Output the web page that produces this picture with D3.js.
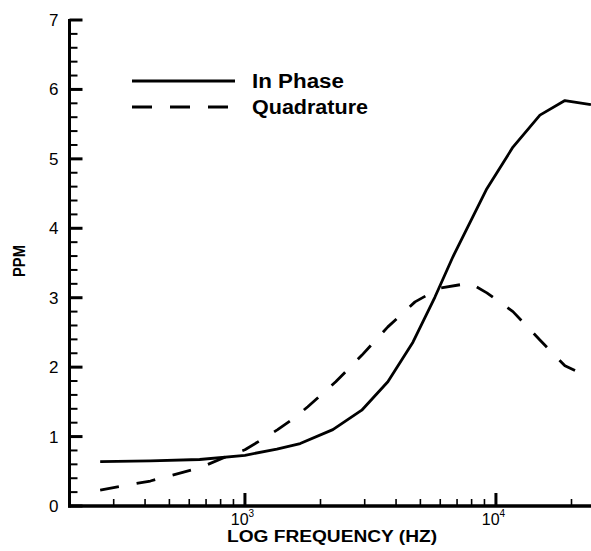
<!DOCTYPE html>
<html>
<head>
<meta charset="utf-8">
<script src="https://cdn.jsdelivr.net/npm/d3@7"></script>
<style>
  html, body { margin: 0; padding: 0; background: #fff; overflow: hidden; }
  svg { display: block; }
  text { font-family: "Liberation Sans", Arial, Helvetica, sans-serif; fill: #000; }
</style>
</head>
<body>
<svg id="chart" width="591" height="551"></svg>
<script>
// ---- data ----
const inPhaseFreq   = [265, 420, 660, 1000, 1340, 1660, 2240, 2920, 3710, 4670, 5715, 6740, 9200, 11690, 14970, 18830, 23900];
const inPhaseValues = [0.64, 0.65, 0.67, 0.73, 0.82, 0.90, 1.10, 1.38, 1.79, 2.36, 3.01, 3.59, 4.57, 5.17, 5.63, 5.84, 5.78];

const quadFreq   = [265, 420, 660, 855, 1000, 1170, 1350, 1550, 1780, 2300, 2920, 3710, 4760, 5980, 7880, 9200, 11690, 14970, 18830, 23900];
const quadValues = [0.23, 0.36, 0.55, 0.72, 0.81, 0.96, 1.10, 1.25, 1.43, 1.79, 2.17, 2.58, 2.94, 3.14, 3.21, 3.07, 2.80, 2.39, 2.02, 1.84];

const xMajorTicks = [1000, 10000];
const xMinorTicks = [300, 400, 500, 600, 700, 800, 900, 2000, 3000, 4000, 5000, 6000, 7000, 8000, 9000, 20000];
const yMajorTicks = [0, 1, 2, 3, 4, 5, 6, 7];
const yMinorTicks = [0.2, 0.4, 0.6, 0.8, 1.2, 1.4, 1.6, 1.8, 2.2, 2.4, 2.6, 2.8, 3.2, 3.4, 3.6, 3.8,
                     4.2, 4.4, 4.6, 4.8, 5.2, 5.4, 5.6, 5.8, 6.2, 6.4, 6.6, 6.8];

const legendLabels = ["In Phase", "Quadrature"];
const xTitle = "LOG FREQUENCY (HZ)";
const yTitle = "PPM";

// ---- layout ----
const svg = d3.select("#chart");
const x0 = 69.5, decade = 251;
const x = d3.scaleLog().domain([200, 25000]).range([x0, x0 + decade * Math.log10(25000 / 200)]);
const y = d3.scaleLinear().domain([0, 7]).range([506, 20]);
const yBase = y(0);

// curves first (underneath axes)
const line = d3.line().x(d => x(d[0])).y(d => y(d[1])).curve(d3.curveLinear);
const inPhase = d3.zip(inPhaseFreq, inPhaseValues);
const quad = d3.zip(quadFreq, quadValues);

svg.append("path").datum(inPhase).attr("d", line)
  .attr("fill", "none").attr("stroke", "#000").attr("stroke-width", 2.8).attr("stroke-linejoin", "round");
svg.append("path").datum(quad).attr("d", line)
  .attr("fill", "none").attr("stroke", "#000").attr("stroke-width", 2.8)
  .attr("stroke-dasharray", "19,18").attr("stroke-linejoin", "round");

// y axis labels via d3 axis
const yAxis = d3.axisLeft(y).tickValues(yMajorTicks).tickSize(0).tickSizeOuter(0).tickPadding(11).tickFormat(d3.format("d"));
const gy = svg.append("g").attr("transform", `translate(${x0},0)`).call(yAxis);
gy.select(".domain").remove();
gy.selectAll(".tick text")
  .style("font-size", "17px").style("font-family", '"Liberation Sans", Arial, sans-serif').attr("fill", "#000");

// x axis labels via d3 axis
const xAxis = d3.axisBottom(x).tickValues(xMajorTicks).tickSize(0).tickSizeOuter(0);
const gx = svg.append("g").attr("transform", `translate(0,${yBase})`).call(xAxis);
gx.select(".domain").remove();
gx.selectAll(".tick text").each(function(d) {
  const t = d3.select(this);
  t.text(null).attr("y", 19).attr("dy", 0).attr("x", -3)
   .attr("text-anchor", "middle").attr("fill", "#000")
   .style("font-size", "16px").style("font-family", '"Liberation Sans", Arial, sans-serif');
  t.append("tspan").text("10");
  t.append("tspan").attr("dy", -8).style("font-size", "10px").text(String(Math.round(Math.log10(d))));
});

// axis lines and inward ticks, positioned by the scales
const axes = svg.append("g").attr("class", "axes-lines");
axes.append("line").attr("x1", x0).attr("x2", x0).attr("y1", y(7) - 1).attr("y2", yBase + 1.5)
  .attr("stroke", "#000").attr("stroke-width", 3);
axes.append("line").attr("x1", x0 - 1.5).attr("x2", 591).attr("y1", yBase).attr("y2", yBase)
  .attr("stroke", "#000").attr("stroke-width", 3.5);
yMinorTicks.forEach(v => {
  axes.append("line").attr("x1", x0).attr("x2", x0 + 8).attr("y1", y(v)).attr("y2", y(v))
    .attr("stroke", "#000").attr("stroke-width", 2);
});
yMajorTicks.forEach(v => {
  axes.append("line").attr("x1", x0).attr("x2", x0 + 13).attr("y1", y(v)).attr("y2", y(v))
    .attr("stroke", "#000").attr("stroke-width", 3);
});
xMinorTicks.forEach(v => {
  axes.append("line").attr("x1", x(v)).attr("x2", x(v)).attr("y1", yBase).attr("y2", yBase - 7)
    .attr("stroke", "#000").attr("stroke-width", 1.6);
});
xMajorTicks.forEach(v => {
  axes.append("line").attr("x1", x(v)).attr("x2", x(v)).attr("y1", yBase).attr("y2", yBase - 13)
    .attr("stroke", "#000").attr("stroke-width", 3);
});

// axis titles
svg.append("text").attr("x", 332).attr("y", 542).attr("text-anchor", "middle")
  .attr("textLength", 210).attr("lengthAdjust", "spacingAndGlyphs")
  .style("font-size", "16px").style("font-weight", "bold").text(xTitle);
svg.append("text").attr("transform", "translate(25,261) rotate(-90)").attr("text-anchor", "middle")
  .attr("textLength", 32).attr("lengthAdjust", "spacingAndGlyphs")
  .style("font-size", "16px").style("font-weight", "bold").text(yTitle);

// legend
const legend = svg.append("g");
const legY = [81, 107];
legend.append("line").attr("x1", 132).attr("x2", 235).attr("y1", legY[0]).attr("y2", legY[0])
  .attr("stroke", "#000").attr("stroke-width", 2.8);
legend.append("line").attr("x1", 132).attr("x2", 228).attr("y1", legY[1]).attr("y2", legY[1])
  .attr("stroke", "#000").attr("stroke-width", 2.8).attr("stroke-dasharray", "20,18");
legend.append("text").attr("x", 252).attr("y", legY[0] + 7)
  .attr("textLength", 92).attr("lengthAdjust", "spacingAndGlyphs")
  .style("font-size", "20px").style("font-weight", "bold").text(legendLabels[0]);
legend.append("text").attr("x", 252).attr("y", legY[1] + 7)
  .attr("textLength", 116).attr("lengthAdjust", "spacingAndGlyphs")
  .style("font-size", "20px").style("font-weight", "bold").text(legendLabels[1]);
</script>
</body>
</html>
